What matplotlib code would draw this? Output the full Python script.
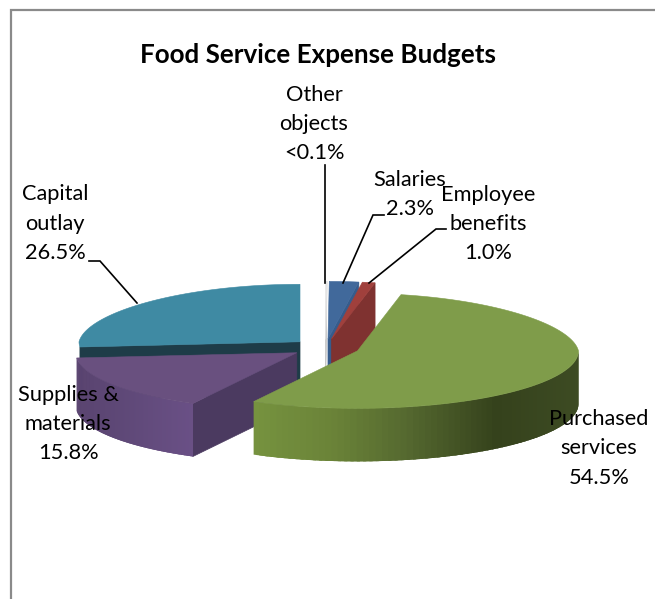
import numpy as np
import matplotlib
matplotlib.use("Agg")
import matplotlib.pyplot as plt
from matplotlib.collections import PolyCollection
from matplotlib.colors import to_rgb

# Budget shares, clockwise from twelve o'clock
categories = ["Other objects", "Salaries", "Employee benefits",
              "Purchased services", "Supplies & materials", "Capital outlay"]
shares = [0.1, 2.3, 1.0, 54.5, 15.8, 26.5]
value_labels = ["<0.1%", "2.3%", "1.0%", "54.5%", "15.8%", "26.5%"]
title = "Food Service Expense Budgets"

FONT = "Lato"
CX, CY = 325.3, 347.8      # pie centre on the canvas
RX, RY = 221.0, 57.5       # projected radii of the top ellipse
DEPTH = 53.0               # extruded height
EXPLODE = 0.155

top_colors = ["#e4e4e4", "#41699b", "#a0403c", "#7f9c4a", "#69507f", "#3f8aa3"]
cut_colors = ["#c6c6c6", "#365c8c", "#7f3230", None, "#4b3a60", "#1e3c48"]
cut_at_start = {4, 5}      # these slices show the face at their first angle

# Wall shading stops: screen x -> colour
wall_shading = {
    3: ([253, 330, 400, 493, 578], ["#76923f", "#6a8338", "#566a30", "#35421c", "#3d4b23"]),
    4: ([77, 120, 193], ["#5a4470", "#5e4877", "#6a5086"]),
}

fig = plt.figure(figsize=(6.55, 5.99), dpi=100)
ax = fig.add_axes([0, 0, 1, 1])
ax.set_xlim(0, 655)
ax.set_ylim(599, 0)
ax.axis("off")

# Chart frame: only the top and left edges fall inside the canvas
ax.plot([10.5, 10.5, 655], [599, 10, 10], color="#8a8a8a", lw=1.6, solid_joinstyle="miter")

total = sum(shares)
edges = np.concatenate([[0], np.cumsum(shares)]) / total * 2 * np.pi


def rim(theta, apex):
    # Far side of the ellipse is drawn slightly narrower for perspective
    taper = 1 - 0.07 * np.maximum(np.cos(theta), 0)
    return (apex[0] + RX * taper * np.sin(theta), apex[1] - RY * np.cos(theta))


def shade(x, stops):
    xs, cols = stops
    rgb = np.array([to_rgb(c) for c in cols])
    return [np.interp(x, xs, rgb[:, i]) for i in range(3)]


def draw_slice(i):
    t0, t1 = edges[i], edges[i + 1]
    mid = (t0 + t1) / 2
    apex = (CX + EXPLODE * RX * np.sin(mid), CY - EXPLODE * RY * np.cos(mid))
    theta = np.linspace(t0, t1, 240)
    x, y = rim(theta, apex)

    # Straight cut face that looks toward the viewer
    if cut_colors[i] is not None:
        side = t0 if i in cut_at_start else t1
        sx, sy = rim(side, apex)
        ax.fill([apex[0], sx, sx, apex[0]],
                [apex[1], sy, sy + DEPTH, apex[1] + DEPTH],
                color=cut_colors[i], lw=0.5)

    # Outer wall on the near half of the ellipse; strips overlap so no seams show
    if i in wall_shading:
        keep = np.cos(theta) <= 0
        wx, wy = x[keep], y[keep]
        order = np.argsort(wx)
        wx, wy = wx[order], wy[order]
        n = len(wx)
        quads, cols = [], []
        for k in range(0, n - 1, 2):
            e = min(k + 5, n - 1)
            seg_x, seg_y = wx[k:e + 1], wy[k:e + 1]
            quads.append(np.r_[np.c_[seg_x, seg_y], np.c_[seg_x[::-1], seg_y[::-1] + DEPTH]])
            cols.append(shade(wx[k], wall_shading[i]))
        ax.add_collection(PolyCollection(quads, facecolors=cols, edgecolors="none", linewidths=0))

    ax.fill(np.r_[apex[0], x], np.r_[apex[1], y], color=top_colors[i], lw=0.4)


# Paint from back to front
for i in [5, 0, 1, 2, 4, 3]:
    draw_slice(i)

# Leader lines
leaders = [
    ([325, 325], [165, 283]),
    ([343, 373, 384], [283, 215, 215]),
    ([369, 436, 446], [283, 229, 229]),
    ([137, 100, 89], [303, 261, 261]),
]
for lx, ly in leaders:
    ax.plot(lx, ly, color="black", lw=1.2, solid_joinstyle="miter")


def multiline(lines, x, ys):
    for line, y in zip(lines, ys):
        ax.text(x, y, line, ha="center", va="center", family=FONT, fontsize=15.7, color="black")


multiline(["Other", "objects", value_labels[0]], 314, [95, 124, 153])
multiline(["Salaries", value_labels[1]], 410, [180, 209])
multiline(["Employee", "benefits", value_labels[2]], 488, [195, 224, 253])
multiline(["Purchased", "services", value_labels[3]], 599, [419, 448, 478])
multiline(["Supplies &", "materials", value_labels[4]], 68, [395, 424, 453])
multiline(["Capital", "outlay", value_labels[5]], 55, [194, 224, 253])

ax.text(318, 55, title, ha="center", va="center", family=FONT,
        fontsize=18.7, fontweight="bold", color="black")

fig.savefig("out.png", dpi=100)
